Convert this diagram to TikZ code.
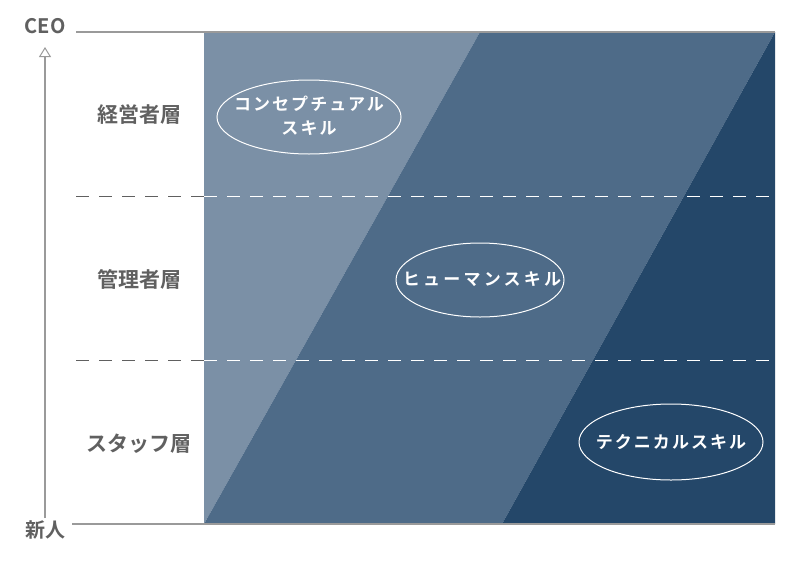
\documentclass[tikz,border=0pt]{standalone}
\usepackage{fontspec}
\usetikzlibrary{arrows.meta}
\newfontfamily\jpb{Noto Sans CJK JP Bold}
\newfontfamily\jpbs{Noto Sans CJK JP Bold}[LetterSpace=12]
\newfontfamily\jpbw{Noto Sans CJK JP Bold}[LetterSpace=19]
\definecolor{cLight}{HTML}{7B90A6}
\definecolor{cMid}{HTML}{4E6B88}
\definecolor{cDark}{HTML}{244769}
\definecolor{cText}{HTML}{606060}
\definecolor{cLine}{HTML}{9A9A9A}
\tikzset{
  rowlabel/.style={font=\jpb\fontsize{21}{24}\selectfont, text=cText, inner sep=0pt},
  axislabel/.style={font=\jpb\fontsize{20}{22}\selectfont, text=cText, inner sep=0pt},
  skill/.style={text=white, align=center, inner sep=0pt,
    font=\jpbs\fontsize{17}{24}\selectfont},
  skillwide/.style={skill, font=\jpbw\fontsize{17}{24}\selectfont},
  ring/.style={draw=white, line width=1pt},
  frameline/.style={draw=cLine, line width=1.6pt},
  dashgray/.style={draw=cText, line width=1pt, dash pattern=on 13pt off 10pt},
  dashwhite/.style={draw=white, line width=1pt, dash pattern=on 13pt off 10pt},
}
\begin{document}
\begin{tikzpicture}[x=1pt,y=-1pt]
\useasboundingbox (0,0) rectangle (800,560);
% bands
\fill[cLight] (204,32) -- (480,32) -- (204,524) -- cycle;
\fill[cMid] (480,32) -- (775,32) -- (502,524) -- (204,524) -- cycle;
\fill[cDark] (775,32) -- (775,524) -- (502,524) -- cycle;
% frame lines
\coordinate (tl) at (76,32);
\coordinate (tr) at (775,32);
\coordinate (bl) at (72,524);
\coordinate (br) at (775,524);
\draw[frameline] (tl) -- (tr);
\draw[frameline] (bl) -- (br);
% dashed separators
\coordinate (d1a) at (76,196); \coordinate (d1b) at (204,196); \coordinate (d1c) at (775,196);
\coordinate (d2a) at (76,360); \coordinate (d2b) at (204,360); \coordinate (d2c) at (775,360);
\draw[dashgray] (d1a) -- (d1b);
\draw[dashwhite] (d1b) -- (d1c);
\draw[dashgray] (d2a) -- (d2b);
\draw[dashwhite] (d2b) -- (d2c);
% axis arrow
\coordinate (ab) at (45,518);
\coordinate (at) at (45,47);
\draw[draw=cLine, line width=1.2pt, -{Triangle[open, length=10pt, width=12pt, line width=1pt]}] (ab) -- (at);
\node[axislabel] (ceo) at (45,26) {CEO};
\node[axislabel] (new) at (45,530) {新人};
% row labels
\node[rowlabel] (r1) at (139,115) {経営者層};
\node[rowlabel] (r2) at (139,279) {管理者層};
\node[rowlabel] (r3) at (139,444) {スタッフ層};
% skills
\node[skill] (s1) at (309,116) {コンセプチュアル\\スキル};
\node[skillwide] (s2) at (482,279) {ヒューマンスキル};
\node[skill] (s3) at (671,442) {テクニカルスキル};
\draw[ring] (309,117) ellipse [x radius=92, y radius=37];
\draw[ring] (480,280) ellipse [x radius=84, y radius=37];
\draw[ring] (671,442) ellipse [x radius=92, y radius=38];
\end{tikzpicture}
\end{document}
